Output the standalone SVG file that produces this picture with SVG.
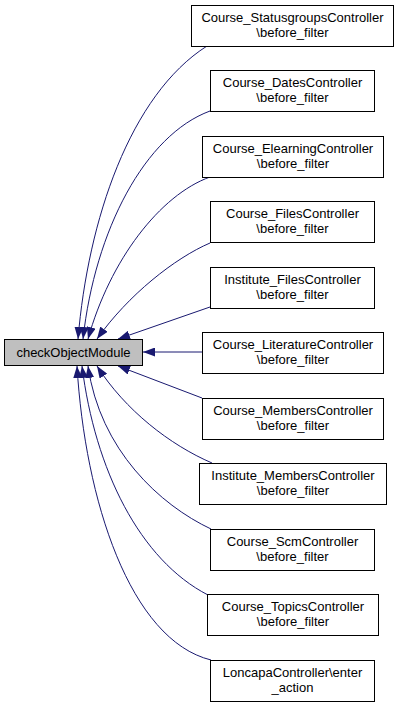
<svg xmlns="http://www.w3.org/2000/svg" width="400" height="705" viewBox="0 0 400 705">
<defs>
<style>
.n rect{fill:#fff;stroke:#000;stroke-width:1}
.n text{font-family:"Liberation Sans",Arial,sans-serif;font-size:13px;text-anchor:middle;fill:#000}
.e path{fill:none;stroke:#191970;stroke-width:1}
</style>
<marker id="ah" viewBox="0 0 12 9" refX="12" refY="4.5" markerUnits="userSpaceOnUse" markerWidth="12" markerHeight="9" orient="auto">
<path d="M0,0 L12,4.5 L0,9 z" fill="#191970"/>
</marker>
</defs>
<rect width="400" height="705" fill="#fff"/>
<g class="e" id="edges">
<path d="M207,46 C130,95 88,220 78,339" marker-end="url(#ah)"/>
<path d="M210,111 C145,135 95,230 83,339" marker-end="url(#ah)"/>
<path d="M210,177 C160,195 110,260 88,339" marker-end="url(#ah)"/>
<path d="M210,243 C175,258 128,295 97,339" marker-end="url(#ah)"/>
<path d="M210,307 L118,339" marker-end="url(#ah)"/>
<path d="M202,352 L143,352" marker-end="url(#ah)"/>
<path d="M202,398 L118,366" marker-end="url(#ah)"/>
<path d="M212,463 C170,445 125,410 97,366" marker-end="url(#ah)"/>
<path d="M211,529 C160,505 100,450 88,366" marker-end="url(#ah)"/>
<path d="M208,595 C140,560 95,470 82,366" marker-end="url(#ah)"/>
<path d="M211,660 C130,640 85,500 77,366" marker-end="url(#ah)"/>
</g>
<g class="n" id="checkObjectModule">
<rect x="4.5" y="339.5" width="138" height="26" style="fill:#bfbfbf"/>
<text x="73.5" y="357">checkObjectModule</text>
</g>
<g class="n" id="n1">
<rect x="191.5" y="5.5" width="202" height="41"/>
<text x="292.5" y="22">Course_StatusgroupsController</text>
<text x="292.5" y="37">\before_filter</text>
</g>
<g class="n" id="n2">
<rect x="210.5" y="70.5" width="164" height="41"/>
<text x="292.5" y="87">Course_DatesController</text>
<text x="292.5" y="102">\before_filter</text>
</g>
<g class="n" id="n3">
<rect x="202.5" y="136.5" width="181" height="41"/>
<text x="293" y="153">Course_ElearningController</text>
<text x="293" y="168">\before_filter</text>
</g>
<g class="n" id="n4">
<rect x="210.5" y="201.5" width="164" height="41"/>
<text x="292.5" y="218">Course_FilesController</text>
<text x="292.5" y="233">\before_filter</text>
</g>
<g class="n" id="n5">
<rect x="210.5" y="267.5" width="164" height="41"/>
<text x="292.5" y="284">Institute_FilesController</text>
<text x="292.5" y="299">\before_filter</text>
</g>
<g class="n" id="n6">
<rect x="202.5" y="332.5" width="181" height="41"/>
<text x="293" y="349">Course_LiteratureController</text>
<text x="293" y="364">\before_filter</text>
</g>
<g class="n" id="n7">
<rect x="202.5" y="398.5" width="181" height="41"/>
<text x="293" y="415">Course_MembersController</text>
<text x="293" y="430">\before_filter</text>
</g>
<g class="n" id="n8">
<rect x="199.5" y="463.5" width="187" height="41"/>
<text x="293" y="480">Institute_MembersController</text>
<text x="293" y="495">\before_filter</text>
</g>
<g class="n" id="n9">
<rect x="210.5" y="529.5" width="164" height="41"/>
<text x="292.5" y="546">Course_ScmController</text>
<text x="292.5" y="561">\before_filter</text>
</g>
<g class="n" id="n10">
<rect x="207.5" y="594.5" width="171" height="41"/>
<text x="293" y="611">Course_TopicsController</text>
<text x="293" y="626">\before_filter</text>
</g>
<g class="n" id="n11">
<rect x="210.5" y="660.5" width="164" height="41"/>
<text x="292.5" y="677">LoncapaController\enter</text>
<text x="292.5" y="692">_action</text>
</g>
</svg>
